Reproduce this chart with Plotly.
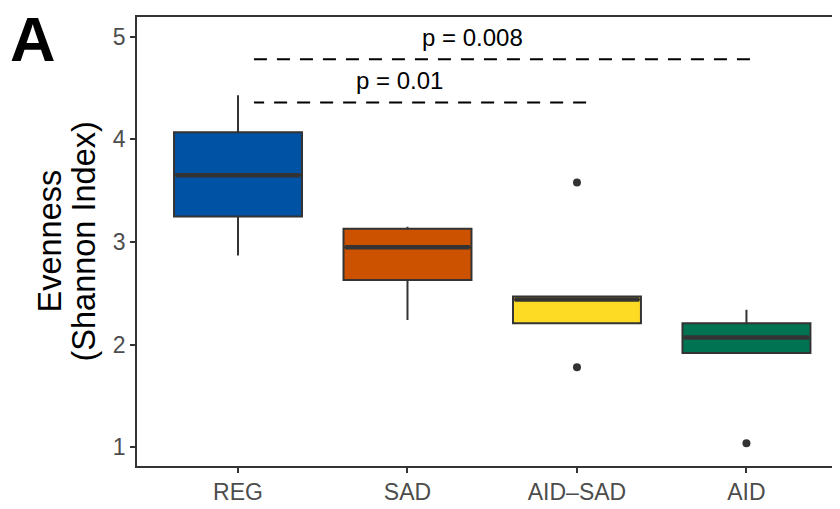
import plotly.graph_objects as go

# ---- data ----
groups = ["REG", "SAD", "AID\u2013SAD", "AID"]
lower_whisker = [2.87, 2.24, 2.21, 1.92]
q1 = [3.25, 2.63, 2.21, 1.92]
median = [3.65, 2.95, 2.44, 2.07]
q3 = [4.07, 3.13, 2.47, 2.21]
upper_whisker = [4.43, 3.15, 2.47, 2.34]
outlier_group = [2, 2, 3]
outlier_value = [3.58, 1.78, 1.04]
colors = ["#0052A5", "#CD5200", "#FDDA24", "#007352"]

comp_start = [0, 0]
comp_end = [3, 2]
comp_y = [4.78, 4.36]
comp_label = ["p = 0.008", "p = 0.01"]
y_ticks = [1, 2, 3, 4, 5]

BOX_W = 0.755
LINE = "#333333"
FONT = "Liberation Sans, Arial, sans-serif"

fig = go.Figure()
xs = list(range(len(groups)))
for i, g in enumerate(groups):
    fig.add_trace(go.Box(
        x=[i], q1=[q1[i]], median=[median[i]], q3=[q3[i]],
        lowerfence=[lower_whisker[i]], upperfence=[upper_whisker[i]],
        width=BOX_W, whiskerwidth=0,
        fillcolor=colors[i], line=dict(color=LINE, width=2),
        boxpoints=False, showlegend=False, hoverinfo="skip",
    ))
    # thicker median bar (ggplot style)
    fig.add_trace(go.Scatter(
        x=[i - BOX_W / 2 + 0.01, i + BOX_W / 2 - 0.01], y=[median[i], median[i]],
        mode="lines", line=dict(color=LINE, width=4.5),
        showlegend=False, hoverinfo="skip",
    ))

fig.add_trace(go.Scatter(
    x=outlier_group, y=outlier_value, mode="markers",
    marker=dict(color=LINE, size=8), showlegend=False, hoverinfo="skip",
))

# significance lines
off = 0.094
for s, e, yv, lab in zip(comp_start, comp_end, comp_y, comp_label):
    x0 = s + off
    x1 = e + off - 0.04
    fig.add_trace(go.Scatter(
        x=[x1, x0] if e == 2 else [x0, x1], y=[yv, yv], mode="lines",
        line=dict(color="black", width=2, dash="13px,10px"),
        showlegend=False, hoverinfo="skip",
    ))
    fig.add_annotation(
        x=(x0 + x1) / 2 - 0.19 if e == 3 else (x0 + x1) / 2 - 0.12,
        y=yv + 0.21, text=lab, showarrow=False,
        font=dict(family=FONT, size=24, color="black"),
        xanchor="center", yanchor="middle",
    )

fig.add_annotation(
    xref="paper", yref="paper", x=0, y=0.5, xshift=-88,
    text="Evenness", textangle=-90, showarrow=False,
    font=dict(family=FONT, size=32.5, color="black"),
    xanchor="center", yanchor="middle",
)
fig.add_annotation(
    xref="paper", yref="paper", x=0, y=0.5, xshift=-54,
    text="(Shannon Index)", textangle=-90, showarrow=False,
    font=dict(family=FONT, size=32.5, color="black"),
    xanchor="center", yanchor="middle",
)
fig.add_annotation(
    xref="paper", yref="paper", x=0, y=1, xshift=-104, yshift=-22,
    text="<b>A</b>", showarrow=False,
    font=dict(family=FONT, size=63, color="black"),
    xanchor="center", yanchor="middle",
)

fig.update_layout(
    width=832, height=501,
    margin=dict(l=129, r=0, t=9, b=43),
    paper_bgcolor="white", plot_bgcolor="white",
    font=dict(family=FONT),
    xaxis=dict(
        range=[-0.596, 3.552], tickmode="array", tickvals=xs, ticktext=groups,
        showgrid=False, zeroline=False, showline=True, linecolor=LINE,
        linewidth=1.5, mirror=True, ticks="outside", ticklen=5,
        tickcolor=LINE, tickwidth=1.5,
        tickfont=dict(family=FONT, size=23, color="#4D4D4D"),
    ),
    yaxis=dict(
        range=[0.819, 5.192], tickmode="array", tickvals=y_ticks,
        showgrid=False, zeroline=False, showline=True, linecolor=LINE,
        linewidth=1.5, ticks="outside", ticklen=5, tickcolor=LINE,
        tickwidth=1.5,
        tickfont=dict(family=FONT, size=23, color="#4D4D4D"),
    ),
)

fig.write_html("out.html")
